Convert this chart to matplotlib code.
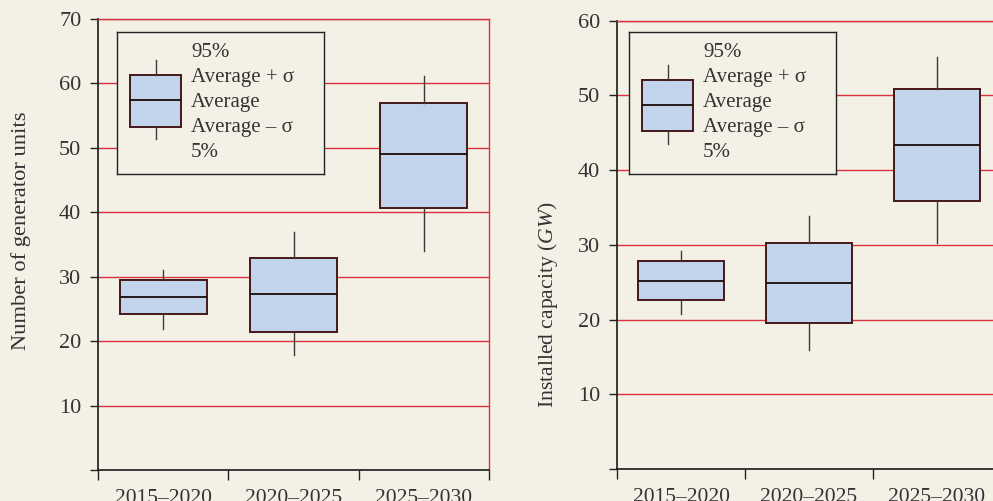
import matplotlib
matplotlib.use("Agg")
import matplotlib.pyplot as plt

plt.rcParams['font.family'] = ['Liberation Serif', 'DejaVu Serif']
plt.rcParams['mathtext.fontset'] = 'custom'
plt.rcParams['mathtext.rm'] = 'Liberation Serif'
plt.rcParams['mathtext.it'] = 'Liberation Serif:italic'

periods = ['2015–2020', '2020–2025', '2025–2030']

# number of generator units: 5%, avg - sigma, avg, avg + sigma, 95%
units_p5 = [21.9, 17.8, 34.0]
units_lo = [24.2, 21.4, 40.7]
units_avg = [26.8, 27.3, 49.0]
units_hi = [29.5, 32.9, 57.0]
units_p95 = [31.1, 37.0, 61.1]

# installed capacity in GW
cap_p5 = [20.7, 15.9, 30.3]
cap_lo = [22.6, 19.6, 35.9]
cap_avg = [25.1, 24.9, 43.4]
cap_hi = [27.8, 30.2, 50.8]
cap_p95 = [29.2, 33.8, 55.1]

# key sample, in key-box units (0..1)
key_left = [0.244, 0.329, 0.519, 0.695, 0.801]
key_right = [0.209, 0.300, 0.482, 0.660, 0.766]
key_text = ['95%', 'Average + σ', 'Average', 'Average – σ', '5%']

bg = '#f3f0e6'
red = '#d8323c'
fill = '#c2d4eb'
edge = '#451818'
txt = '#333333'


def stats(p5, lo, avg, hi, p95):
    return [dict(whislo=a, q1=b, med=c, q3=d, whishi=e)
            for a, b, c, d, e in zip(p5, lo, avg, hi, p95)]


def draw_boxes(ax, st, pos, width):
    ax.bxp(st, positions=pos, widths=width, showfliers=False, showcaps=False,
           patch_artist=True,
           boxprops=dict(facecolor=fill, edgecolor=edge, linewidth=1.4),
           medianprops=dict(color='#1a0a0a', linewidth=1.3),
           whiskerprops=dict(color='#3a3a3a', linewidth=1.0),
           manage_ticks=False)


def panel(rect, st, ymax, ylabel, label_xy, label_size, key_rect, key_vals):
    ax = fig.add_axes(rect)
    ax.set_facecolor(bg)
    ax.set_xlim(0, 3)
    ax.set_ylim(0, ymax)
    for y in range(10, ymax + 1, 10):
        ax.axhline(y, color=red, lw=1.0, zorder=0)
    draw_boxes(ax, st, [0.5, 1.5, 2.5], 0.67)
    ax.set_yticks(range(0, ymax + 1, 10))
    ax.set_yticklabels([''] + [str(v) for v in range(10, ymax + 1, 10)])
    ax.set_xticks([0, 1, 2, 3])
    ax.set_xticklabels([])
    ax.set_xticks([0.5, 1.5, 2.5], minor=True)
    ax.set_xticklabels(periods, minor=True)
    ax.tick_params(axis='x', which='major', length=7, width=1, color='#222222')
    ax.tick_params(axis='x', which='minor', length=0, pad=14, labelsize=15.5, labelcolor=txt)
    ax.tick_params(axis='y', length=6, width=1, color='#222222', labelsize=16,
                   labelcolor=txt, pad=6)
    for s in ['left', 'bottom']:
        ax.spines[s].set_color('#1a1a1a')
        ax.spines[s].set_linewidth(1.2)
    for s in ['top', 'right']:
        ax.spines[s].set_color(red)
        ax.spines[s].set_linewidth(1.0)
    ax.set_ylabel(ylabel, fontsize=label_size, color=txt)
    ax.yaxis.set_label_coords(*label_xy)

    # key box
    k = fig.add_axes(key_rect)
    k.set_facecolor(bg)
    k.set_xlim(0, 1)
    k.set_ylim(0, 1)
    k.set_xticks([])
    k.set_yticks([])
    for s in k.spines.values():
        s.set_color('#222222')
        s.set_linewidth(1.0)
    draw_boxes(k, stats(*[[v] for v in key_vals]), [0.186], 0.245)
    for i, t in enumerate(key_text):
        k.text(0.357, 0.857 - i * 0.1765, t, fontsize=15, color=txt, va='center')
    return ax


fig = plt.figure(figsize=(9.93, 5.01), dpi=100)
fig.patch.set_facecolor(bg)

panel([98 / 993, 31 / 501, 391 / 993, 451 / 501],
      stats(units_p5, units_lo, units_avg, units_hi, units_p95), 70,
      'Number of generator units', (-0.172, 0.53), 16.2,
      [117 / 993, 327.3 / 501, 207 / 993, 142 / 501], key_left)

panel([617 / 993, 32 / 501, 384 / 993, 448.3 / 501],
      stats(cap_p5, cap_lo, cap_avg, cap_hi, cap_p95), 60,
      'Installed capacity ($\\mathit{GW}$)', (-0.148, 0.366), 15.6,
      [629.3 / 993, 327.3 / 501, 206.7 / 993, 142 / 501], key_right)

fig.savefig('out.png', dpi=100, facecolor=bg)
